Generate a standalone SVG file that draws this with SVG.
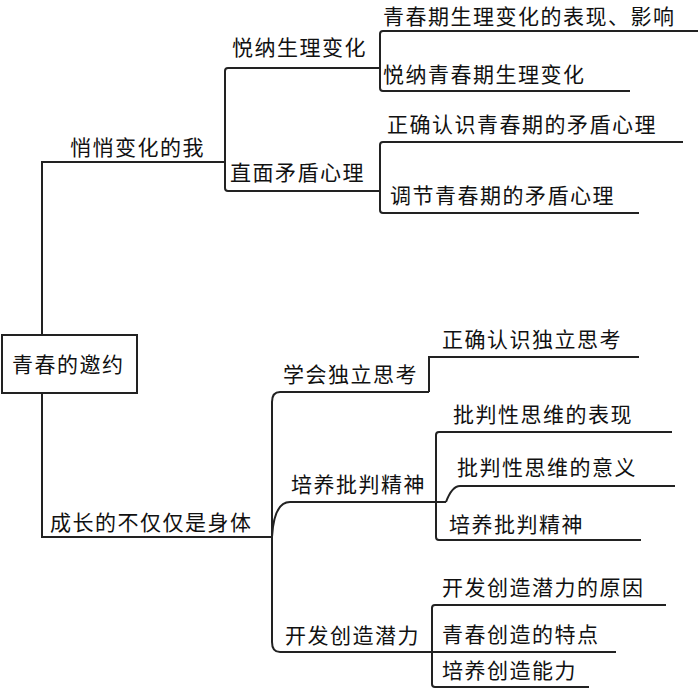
<svg xmlns="http://www.w3.org/2000/svg" width="700" height="690" viewBox="0 0 700 690">
<style>
text{font-family:"Noto Sans CJK SC","Noto Sans CJK JP",sans-serif;font-size:21px;fill:#111;letter-spacing:1.5px}
.c{fill:none;stroke:#222;stroke-width:2}
</style>
<rect width="700" height="690" fill="#fff"/>
<g id="connectors">
<path class="c" d="M42,335 V162 H225"/>
<path class="c" d="M42,393 V537 H272"/>
<path class="c" d="M380,68 H228 Q225,68 225,71 V188 Q225,191 228,191 H380"/>
<path class="c" d="M698,31 H383 Q380,31 380,34 V88 Q380,91 383,91 H630"/>
<path class="c" d="M683,142 H383 Q380,142 380,145 V210 Q380,213 383,213 H639"/>
<path class="c" d="M429,392 H280 Q272,392 272,402 V642 Q272,652 280,652 H432"/>
<path class="c" d="M272,537 Q274,502 290,502 H446"/>
<path class="c" d="M429,392 V357 H639"/>
<path class="c" d="M672,432 H439 Q436,432 436,435 V537 Q436,540 439,540 H641"/>
<path class="c" d="M446,502 Q452,486 460,486 H675"/>
<path class="c" d="M666,605 H435 Q432,605 432,608 V684 Q432,687 435,687 H589"/>
<path class="c" d="M432,652 H616"/>
</g>
<g id="root"><rect x="2" y="335" width="135" height="58" fill="#fff" stroke="#222" stroke-width="2"/><text x="12" y="372">青春的邀约</text></g>
<g id="n1"><text x="70" y="155">悄悄变化的我</text></g>
<g id="n11"><text x="232" y="55">悦纳生理变化</text></g>
<g id="n111"><text x="383" y="24">青春期生理变化的表现、影响</text></g>
<g id="n112"><text x="383" y="82">悦纳青春期生理变化</text></g>
<g id="n12"><text x="230" y="180">直面矛盾心理</text></g>
<g id="n121"><text x="387" y="132">正确认识青春期的矛盾心理</text></g>
<g id="n122"><text x="390" y="203">调节青春期的矛盾心理</text></g>
<g id="n2"><text x="50" y="530">成长的不仅仅是身体</text></g>
<g id="n21"><text x="283" y="382">学会独立思考</text></g>
<g id="n211"><text x="442" y="347">正确认识独立思考</text></g>
<g id="n22"><text x="291" y="492">培养批判精神</text></g>
<g id="n221"><text x="453" y="422">批判性思维的表现</text></g>
<g id="n222"><text x="457" y="475">批判性思维的意义</text></g>
<g id="n223"><text x="449" y="532">培养批判精神</text></g>
<g id="n23"><text x="285" y="643">开发创造潜力</text></g>
<g id="n231"><text x="442" y="595">开发创造潜力的原因</text></g>
<g id="n232"><text x="442" y="642">青春创造的特点</text></g>
<g id="n233"><text x="442" y="678">培养创造能力</text></g>
</svg>
